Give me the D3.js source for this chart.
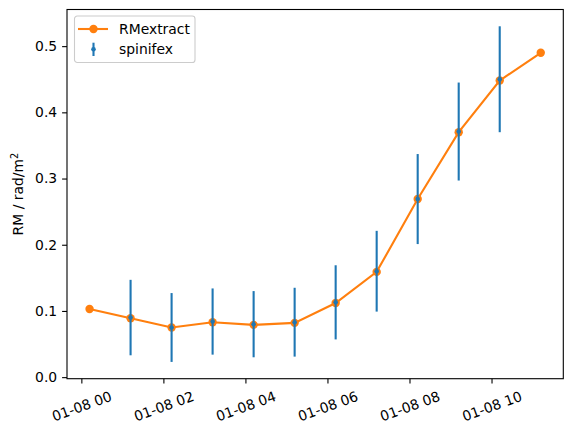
<!DOCTYPE html>
<html>
<head>
<meta charset="utf-8">
<script src="https://cdn.jsdelivr.net/npm/d3@7"></script>
<style>
  body { margin: 0; background: #fff; }
  text { font-family: "DejaVu Sans", sans-serif; }
</style>
</head>
<body>
<div id="chart"></div>
<script>
// RMextract: one point per hour
var rmTimes = ["2020-01-08T00:12Z", "2020-01-08T01:12Z", "2020-01-08T02:12Z", "2020-01-08T03:12Z",
               "2020-01-08T04:12Z", "2020-01-08T05:12Z", "2020-01-08T06:12Z", "2020-01-08T07:12Z",
               "2020-01-08T08:12Z", "2020-01-08T09:12Z", "2020-01-08T10:12Z", "2020-01-08T11:12Z"];
var rmValues = [0.103, 0.089, 0.075, 0.083, 0.079, 0.082, 0.112, 0.159, 0.269, 0.370, 0.448, 0.490];

// spinifex with error bars
var spTimes = ["2020-01-08T01:12Z", "2020-01-08T02:12Z", "2020-01-08T03:12Z", "2020-01-08T04:12Z",
               "2020-01-08T05:12Z", "2020-01-08T06:12Z", "2020-01-08T07:12Z", "2020-01-08T08:12Z",
               "2020-01-08T09:12Z", "2020-01-08T10:12Z"];
var spValues = [0.090, 0.075, 0.084, 0.080, 0.083, 0.113, 0.160, 0.269, 0.371, 0.450];
var spErrors = [0.057, 0.052, 0.050, 0.050, 0.052, 0.056, 0.061, 0.068, 0.074, 0.080];

var yTicks = [0.0, 0.1, 0.2, 0.3, 0.4, 0.5];

var width = 572, height = 433;
var margin = { left: 67, right: 8.7, top: 9.5, bottom: 54.3 };
var orange = "#ff7f0e", blue = "#1f77b4";

var rm = rmTimes.map(function(t, i) { return { t: new Date(t), v: rmValues[i] }; });
var sp = spTimes.map(function(t, i) { return { t: new Date(t), v: spValues[i], e: spErrors[i] }; });

var svg = d3.select("#chart").append("svg")
  .attr("width", width)
  .attr("height", height);

// matplotlib style 5% margins
function padded(ext) {
  var d = (ext[1] - ext[0]) * 0.05;
  return [ext[0] - d, ext[1] + d];
}

var tExt = d3.extent(rm, function(d) { return +d.t; });
var x = d3.scaleUtc()
  .domain(padded(tExt).map(function(v) { return new Date(v); }))
  .range([margin.left, width - margin.right]);

var yLo = d3.min([d3.min(rm, function(d) { return d.v; }), d3.min(sp, function(d) { return d.v - d.e; })]);
var yHi = d3.max([d3.max(rm, function(d) { return d.v; }), d3.max(sp, function(d) { return d.v + d.e; })]);
var y = d3.scaleLinear()
  .domain(padded([yLo, yHi]))
  .range([height - margin.bottom, margin.top]);

var x0 = margin.left, x1 = width - margin.right,
    y0 = height - margin.bottom, y1 = margin.top;

// x axis
var xAxis = svg.append("g")
  .attr("transform", "translate(0," + y0 + ")")
  .call(d3.axisBottom(x)
    .ticks(d3.utcHour.every(2))
    .tickFormat(d3.utcFormat("%m-%d %H"))
    .tickSize(4.9)
    .tickSizeOuter(0));
xAxis.select(".domain").remove();
xAxis.selectAll(".tick line").attr("stroke", "#000").attr("stroke-width", 1.1);
xAxis.selectAll(".tick text")
  .attr("y", null).attr("dy", null)
  .attr("font-size", 13.9)
  .attr("fill", "#000")
  .attr("text-anchor", "middle")
  .attr("dominant-baseline", "central")
  .attr("transform", "translate(0,27.5) rotate(-20)");

// y axis
var yAxis = svg.append("g")
  .attr("transform", "translate(" + x0 + ",0)")
  .call(d3.axisLeft(y)
    .tickValues(yTicks)
    .tickFormat(d3.format(".1f"))
    .tickSize(4.9)
    .tickPadding(4.9));
yAxis.select(".domain").remove();
yAxis.selectAll(".tick line").attr("stroke", "#000").attr("stroke-width", 1.1);
yAxis.selectAll(".tick text").attr("font-size", 13.9).attr("fill", "#000");

// y label
var yl = svg.append("text")
  .attr("transform", "translate(23," + ((y0 + y1) / 2) + ") rotate(-90)")
  .attr("text-anchor", "middle")
  .attr("font-size", 13.9)
  .attr("fill", "#000");
yl.append("tspan").text("RM / rad/m");
yl.append("tspan").attr("font-size", 9.7).attr("dy", -5).text("2");

// RMextract line + markers
var line = d3.line()
  .x(function(d) { return x(d.t); })
  .y(function(d) { return y(d.v); });

svg.append("path")
  .datum(rm)
  .attr("d", line)
  .attr("fill", "none")
  .attr("stroke", orange)
  .attr("stroke-width", 2.1);

svg.selectAll("circle.rm")
  .data(rm)
  .enter().append("circle")
    .attr("class", "rm")
    .attr("cx", function(d) { return x(d.t); })
    .attr("cy", function(d) { return y(d.v); })
    .attr("r", 4.2)
    .attr("fill", orange);

// spinifex error bars + dots
svg.selectAll("line.err")
  .data(sp)
  .enter().append("line")
    .attr("class", "err")
    .attr("x1", function(d) { return x(d.t); })
    .attr("x2", function(d) { return x(d.t); })
    .attr("y1", function(d) { return y(d.v - d.e); })
    .attr("y2", function(d) { return y(d.v + d.e); })
    .attr("stroke", blue)
    .attr("stroke-width", 2.1);

svg.selectAll("circle.sp")
  .data(sp)
  .enter().append("circle")
    .attr("class", "sp")
    .attr("cx", function(d) { return x(d.t); })
    .attr("cy", function(d) { return y(d.v); })
    .attr("r", 2.3)
    .attr("fill", blue);

// frame
svg.append("rect")
  .attr("x", x0).attr("y", y1)
  .attr("width", x1 - x0).attr("height", y0 - y1)
  .attr("fill", "none")
  .attr("stroke", "#000")
  .attr("stroke-width", 1.1);

// legend
var lg = svg.append("g").attr("transform", "translate(74.5,16)");
lg.append("rect")
  .attr("width", 120.5).attr("height", 46.5)
  .attr("rx", 2.8)
  .attr("fill", "#fff").attr("fill-opacity", 0.8)
  .attr("stroke", "#cccccc").attr("stroke-width", 1.1);

lg.append("line")
  .attr("x1", 3.5).attr("x2", 33.5).attr("y1", 13).attr("y2", 13)
  .attr("stroke", orange).attr("stroke-width", 2.1);
lg.append("circle").attr("cx", 19).attr("cy", 13).attr("r", 4.2).attr("fill", orange);
lg.append("text").attr("x", 44.5).attr("y", 13).attr("dy", "0.35em")
  .attr("font-size", 13.9).text("RMextract");

lg.append("line")
  .attr("x1", 19).attr("x2", 19).attr("y1", 26.7).attr("y2", 40)
  .attr("stroke", blue).attr("stroke-width", 2.1);
lg.append("circle").attr("cx", 19).attr("cy", 33.3).attr("r", 2.3).attr("fill", blue);
lg.append("text").attr("x", 44.5).attr("y", 33.3).attr("dy", "0.35em")
  .attr("font-size", 13.9).text("spinifex");
</script>
</body>
</html>
